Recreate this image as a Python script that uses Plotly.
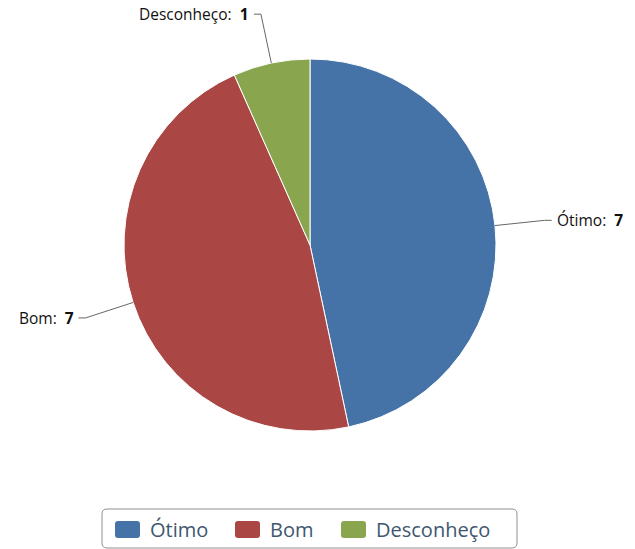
import math
import plotly.graph_objects as go

categories = ["Ótimo", "Bom", "Desconheço"]
values = [7, 7, 1]
colors = ["#4572A7", "#AA4643", "#89A54E"]

W, H = 635, 549
CX, CY, R = 310, 245, 186  # pie center / radius in pixels


def px(x):
    return x / W


def py(y):
    return 1 - y / H


fig = go.Figure()
fig.add_trace(go.Pie(
    labels=categories, values=values, sort=False, direction="clockwise",
    rotation=0, marker=dict(colors=colors, line=dict(color="#FFFFFF", width=1)),
    textinfo="none", showlegend=False,
    domain=dict(x=[px(CX - R), px(CX + R)], y=[py(CY + R), py(CY - R)]),
))

shapes = []
annotations = []
total = sum(values)
cum = 0
for cat, v in zip(categories, values):
    mid = (cum + v / 2) / total * 2 * math.pi
    cum += v
    sx, cy_ = math.sin(mid), math.cos(mid)
    ax, ay = CX + R * sx, CY - R * cy_
    bx, by = CX + (R + 50) * sx, CY - (R + 50) * cy_
    side = 1 if sx >= 0 else -1
    ex = bx + 7 * side
    shapes.append(dict(type="path", xref="paper", yref="paper",
                       path=f"M {px(ax)} {py(ay)} L {px(bx)} {py(by)} L {px(ex)} {py(by)}",
                       line=dict(color="#666666", width=1)))
    annotations.append(dict(xref="paper", yref="paper", x=px(ex + 3 * side), y=py(by),
                            xanchor="left" if side > 0 else "right", yanchor="middle",
                            text=f"{cat}:  <b>{v}</b>", showarrow=False,
                            font=dict(family="Open Sans", size=15.5, color="#111111")))

# custom legend
lx0, lx1, ly0, ly1, rr = 102, 517, 509, 548, 5
shapes.append(dict(type="path", xref="paper", yref="paper",
                   path=(f"M {px(lx0+rr)} {py(ly0)} L {px(lx1-rr)} {py(ly0)} "
                         f"Q {px(lx1)} {py(ly0)} {px(lx1)} {py(ly0+rr)} L {px(lx1)} {py(ly1-rr)} "
                         f"Q {px(lx1)} {py(ly1)} {px(lx1-rr)} {py(ly1)} L {px(lx0+rr)} {py(ly1)} "
                         f"Q {px(lx0)} {py(ly1)} {px(lx0)} {py(ly1-rr)} L {px(lx0)} {py(ly0+rr)} "
                         f"Q {px(lx0)} {py(ly0)} {px(lx0+rr)} {py(ly0)} Z"),
                   line=dict(color="#909090", width=1), fillcolor="rgba(0,0,0,0)"))
swatch_x = [115, 235, 341]
sw, sh, sr = 25, 17, 3
sy0 = 521
for cat, col, x0 in zip(categories, colors, swatch_x):
    x1, y0, y1 = x0 + sw, sy0, sy0 + sh
    shapes.append(dict(type="path", xref="paper", yref="paper",
                       path=(f"M {px(x0+sr)} {py(y0)} L {px(x1-sr)} {py(y0)} "
                             f"Q {px(x1)} {py(y0)} {px(x1)} {py(y0+sr)} L {px(x1)} {py(y1-sr)} "
                             f"Q {px(x1)} {py(y1)} {px(x1-sr)} {py(y1)} L {px(x0+sr)} {py(y1)} "
                             f"Q {px(x0)} {py(y1)} {px(x0)} {py(y1-sr)} L {px(x0)} {py(y0+sr)} "
                             f"Q {px(x0)} {py(y0)} {px(x0+sr)} {py(y0)} Z"),
                       line=dict(width=0), fillcolor=col))
    annotations.append(dict(xref="paper", yref="paper", x=px(x1 + 8), y=py(529.5),
                            xanchor="left", yanchor="middle", text=cat, showarrow=False,
                            font=dict(family="Open Sans", size=20, color="#3E576F")))

fig.update_layout(width=W, height=H, margin=dict(l=0, r=0, t=0, b=0),
                  paper_bgcolor="#FFFFFF", plot_bgcolor="#FFFFFF",
                  shapes=shapes, annotations=annotations)
fig.write_html("out.html", config={"displayModeBar": False},
               post_script="document.body.style.margin='0';")
